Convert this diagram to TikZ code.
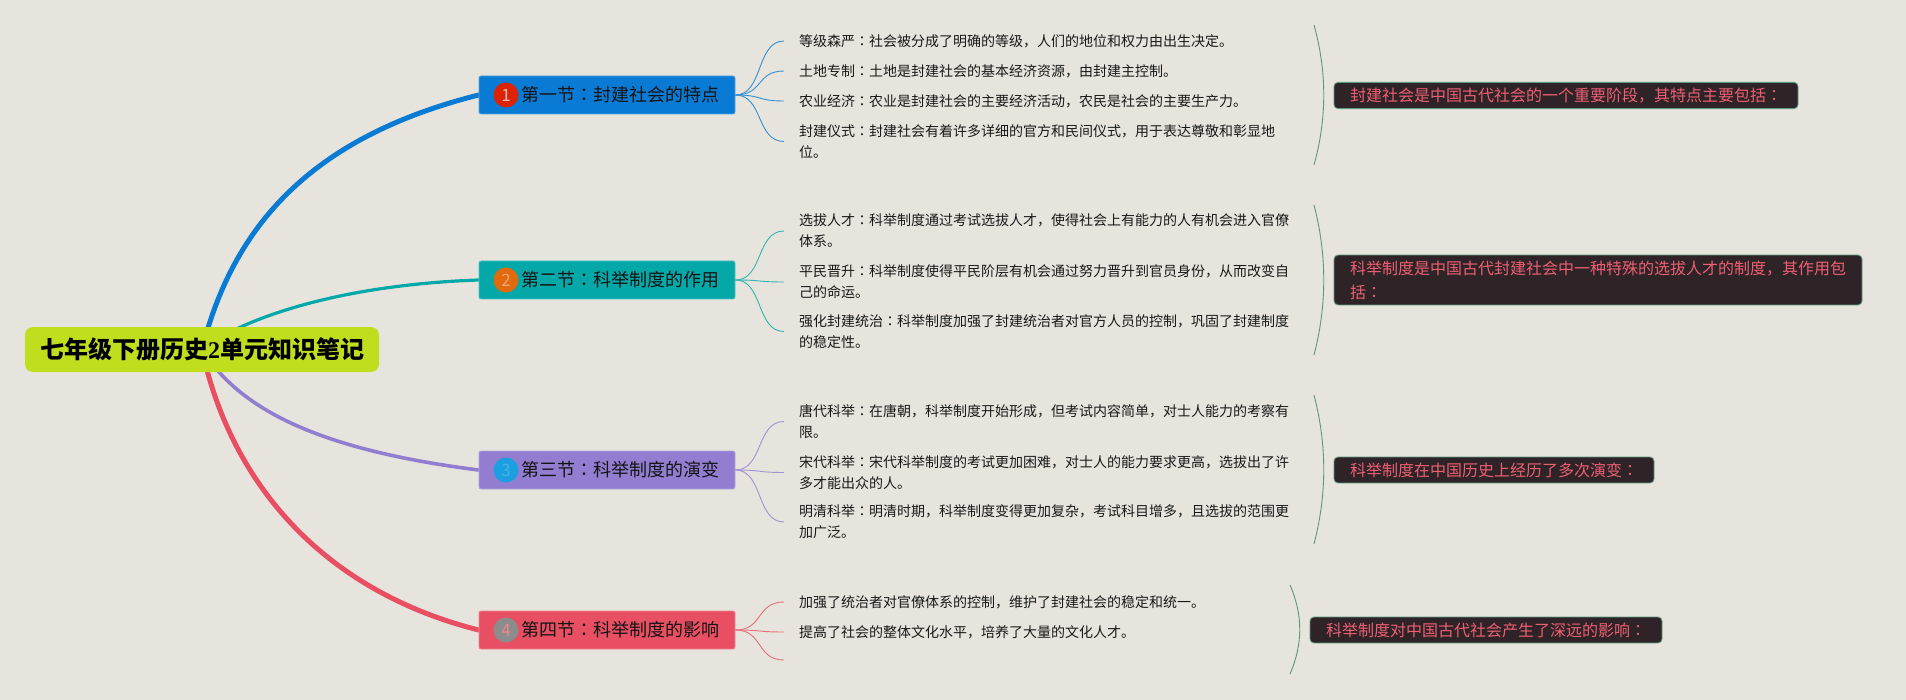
\documentclass[tikz,border=0pt]{standalone}
\usepackage{fontspec}
\setmainfont{Noto Sans CJK SC}
\newfontfamily\colonfont{Noto Sans CJK TC}
\newfontfamily\numfont{Liberation Serif}
\newcommand{\cln}{{\colonfont ：}}
\usetikzlibrary{positioning}
\usetikzlibrary{backgrounds}
\definecolor{paper}{HTML}{E6E4DC}
\definecolor{rootcol}{HTML}{C0DE1E}
\definecolor{seca}{HTML}{0A7BD4}
\definecolor{secb}{HTML}{04A8A8}
\definecolor{secc}{HTML}{927DD1}
\definecolor{secd}{HTML}{E84F63}
\definecolor{numa}{HTML}{DD2205}
\definecolor{numb}{HTML}{E26A0E}
\definecolor{numc}{HTML}{1B9FE0}
\definecolor{numd}{HTML}{8C8C8C}
\definecolor{arccol}{HTML}{5A9A80}
\definecolor{sumfill}{HTML}{2E2326}
\definecolor{sumtext}{HTML}{EE5F74}

\begin{document}
\begin{tikzpicture}[x=0.5pt, y=-0.5pt,
    rootbox/.style={fill=rootcol, rounded corners=4pt, minimum width=177pt, minimum height=22.5pt, inner sep=0pt, font=\fontsize{12}{14}\selectfont\bfseries},
    secbox/.style={draw=#1!70!white, fill=#1, line width=0.4pt, rounded corners=1pt, minimum width=128pt, minimum height=19pt, inner sep=0pt, text=black!92, font=\fontsize{9}{11}\selectfont},
    numdot/.style={circle, minimum size=12.5pt, inner sep=0pt, font=\fontsize{8.5}{10}\selectfont},
    detail/.style={anchor=west, align=left, inner xsep=7.5pt, inner ysep=0pt, outer sep=0pt, text=black!90, font=\fontsize{7}{10.5}\selectfont},
    sumbox/.style={anchor=west, align=left, draw=arccol, fill=sumfill, line width=0.4pt, rounded corners=2pt, inner xsep=8pt, inner ysep=2.75pt, outer sep=0pt, text=sumtext, font=\fontsize{8}{12}\selectfont},
    trunk/.style={line width=#1, line cap=round},
    fan/.style={draw=#1!80!paper, line width=0.45pt},
    sumarc/.style={draw=arccol, line width=0.45pt}]

    \begin{scope}[on background layer]
        \fill[paper] (0, 0) rectangle (1906, 700);
    \end{scope}
    \useasboundingbox (0, 0) rectangle (1906, 700);

    \node[rootbox] (root) at (202, 349.5) {七年级下册历史{\numfont 2}单元知识笔记};

    \node[secbox=seca] (sec1) at (607, 95) {\hspace{13pt}第一节\cln 封建社会的特点};
    \node[secbox=secb] (sec2) at (607, 280) {\hspace{13pt}第二节\cln 科举制度的作用};
    \node[secbox=secc] (sec3) at (607, 470) {\hspace{13pt}第三节\cln 科举制度的演变};
    \node[secbox=secd] (sec4) at (607, 630) {\hspace{13pt}第四节\cln 科举制度的影响};

    \node[numdot, fill=numa, text=numa!30!white, right=7.25pt of sec1.west] (num1) {1};
    \node[numdot, fill=numb, text=numb!60!white, right=7.25pt of sec2.west] (num2) {2};
    \node[numdot, fill=numc, text=numc!80!white, right=7.25pt of sec3.west] (num3) {3};
    \node[numdot, fill=numd, text=secd!70!white, right=7.25pt of sec4.west] (num4) {4};

    \node[detail] (d11) at (784, 41) {等级森严\cln 社会被分成了明确的等级，人们的地位和权力由出生决定。};
    \node[detail] (d12) at (784, 71) {土地专制\cln 土地是封建社会的基本经济资源，由封建主控制。};
    \node[detail] (d13) at (784, 101) {农业经济\cln 农业是封建社会的主要经济活动，农民是社会的主要生产力。};
    \node[detail] (d14) at (784, 141.5) {封建仪式\cln 封建社会有着许多详细的官方和民间仪式，用于表达尊敬和彰显地\\位。};

    \node[detail] (d21) at (784, 231) {选拔人才\cln 科举制度通过考试选拔人才，使得社会上有能力的人有机会进入官僚\\体系。};
    \node[detail] (d22) at (784, 282) {平民晋升\cln 科举制度使得平民阶层有机会通过努力晋升到官员身份，从而改变自\\己的命运。};
    \node[detail] (d23) at (784, 331.5) {强化封建统治\cln 科举制度加强了封建统治者对官方人员的控制，巩固了封建制度\\的稳定性。};

    \node[detail] (d31) at (784, 421.5) {唐代科举\cln 在唐朝，科举制度开始形成，但考试内容简单，对士人能力的考察有\\限。};
    \node[detail] (d32) at (784, 472.5) {宋代科举\cln 宋代科举制度的考试更加困难，对士人的能力要求更高，选拔出了许\\多才能出众的人。};
    \node[detail] (d33) at (784, 522) {明清科举\cln 明清时期，科举制度变得更加复杂，考试科目增多，且选拔的范围更\\加广泛。};

    \node[detail] (d41) at (784, 602) {加强了统治者对官僚体系的控制，维护了封建社会的稳定和统一。};
    \node[detail] (d42) at (784, 632) {提高了社会的整体文化水平，培养了大量的文化人才。};
    \coordinate (d43) at (784, 660);

    \node[sumbox] (sum1) at (1334, 95.5) {封建社会是中国古代社会的一个重要阶段，其特点主要包括\cln};
    \node[sumbox] (sum2) at (1334, 280) {科举制度是中国古代封建社会中一种特殊的选拔人才的制度，其作用包\\括\cln};
    \node[sumbox] (sum3) at (1334, 470) {科举制度在中国历史上经历了多次演变\cln};
    \node[sumbox] (sum4) at (1310, 630) {科举制度对中国古代社会产生了深远的影响\cln};

    \coordinate (arc1a) at (1314, 25);
    \coordinate (arc1b) at (1314, 165);
    \coordinate (arc2a) at (1314, 205);
    \coordinate (arc2b) at (1314, 355);
    \coordinate (arc3a) at (1314, 395);
    \coordinate (arc3b) at (1314, 544);
    \coordinate (arc4a) at (1290, 585);
    \coordinate (arc4b) at (1290, 674);

    \begin{scope}[on background layer]
        \draw[trunk=2.5pt, seca] (root.center) .. controls (235, 218) and (320, 135) .. (sec1.west);
        \draw[trunk=1.6pt, secb] (root.center) .. controls (240, 320) and (335, 285) .. (sec2.west);
        \draw[trunk=1.8pt, secc] (root.center) .. controls (240, 410) and (320, 450) .. (sec3.west);
        \draw[trunk=2.5pt, secd] (root.center) .. controls (230, 480) and (320, 590) .. (sec4.west);

        \draw[fan=seca] (sec1.east) .. controls +(28, 0) and +(-28, 0) .. (d11.west);
        \draw[fan=seca] (sec1.east) .. controls +(28, 0) and +(-28, 0) .. (d12.west);
        \draw[fan=seca] (sec1.east) .. controls +(28, 0) and +(-28, 0) .. (d13.west);
        \draw[fan=seca] (sec1.east) .. controls +(28, 0) and +(-28, 0) .. (d14.west);

        \draw[fan=secb] (sec2.east) .. controls +(28, 0) and +(-28, 0) .. (d21.west);
        \draw[fan=secb] (sec2.east) .. controls +(28, 0) and +(-28, 0) .. (d22.west);
        \draw[fan=secb] (sec2.east) .. controls +(28, 0) and +(-28, 0) .. (d23.west);

        \draw[fan=secc] (sec3.east) .. controls +(28, 0) and +(-28, 0) .. (d31.west);
        \draw[fan=secc] (sec3.east) .. controls +(28, 0) and +(-28, 0) .. (d32.west);
        \draw[fan=secc] (sec3.east) .. controls +(28, 0) and +(-28, 0) .. (d33.west);

        \draw[fan=secd] (sec4.east) .. controls +(28, 0) and +(-28, 0) .. (d41.west);
        \draw[fan=secd] (sec4.east) .. controls +(28, 0) and +(-28, 0) .. (d42.west);
        \draw[fan=secd] (sec4.east) .. controls +(28, 0) and +(-28, 0) .. (d43);
    \end{scope}

    \draw[sumarc] (arc1a) .. controls +(13, 47) and +(13, -47) .. (arc1b);
    \draw[sumarc] (arc2a) .. controls +(13, 50) and +(13, -50) .. (arc2b);
    \draw[sumarc] (arc3a) .. controls +(13, 50) and +(13, -50) .. (arc3b);
    \draw[sumarc] (arc4a) .. controls +(13, 30) and +(13, -30) .. (arc4b);
\end{tikzpicture}
\end{document}
